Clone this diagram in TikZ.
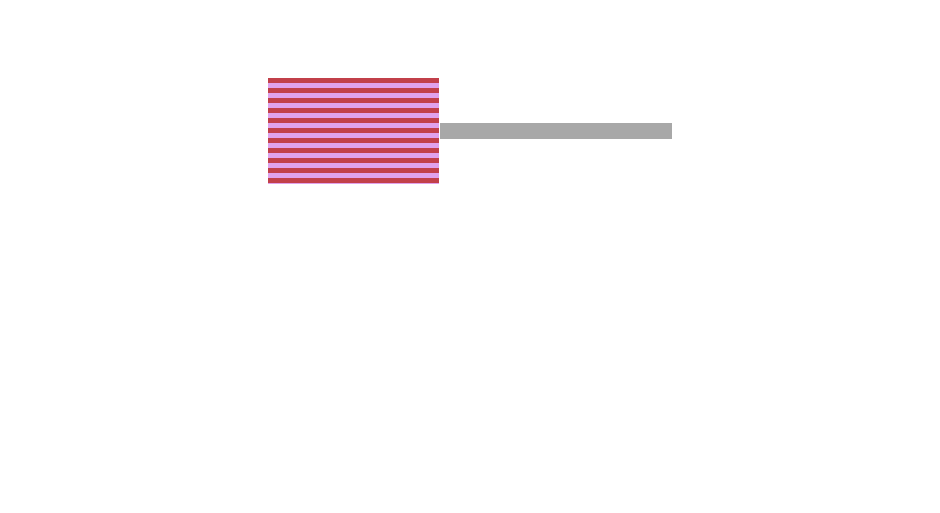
\documentclass[tikz,border=0pt]{standalone}
\begin{document}
\begin{tikzpicture}[x=1pt,y=-1pt]
\definecolor{stred}{HTML}{C2404A}
\definecolor{stpink}{HTML}{E0A2EC}
\definecolor{bargray}{HTML}{A8A8A8}
\useasboundingbox (0,0) rectangle (940,512);
\fill[stpink] (268,78) rectangle (439,184);
\foreach \i in {0,...,10} {
  \fill[stred] (268,78+10*\i) rectangle (439,83+10*\i);
}
\node[inner sep=0pt,minimum width=0pt] (box) at (353.5,131) {};
\fill[bargray] (440,123) rectangle (672,139);
\end{tikzpicture}
\end{document}
